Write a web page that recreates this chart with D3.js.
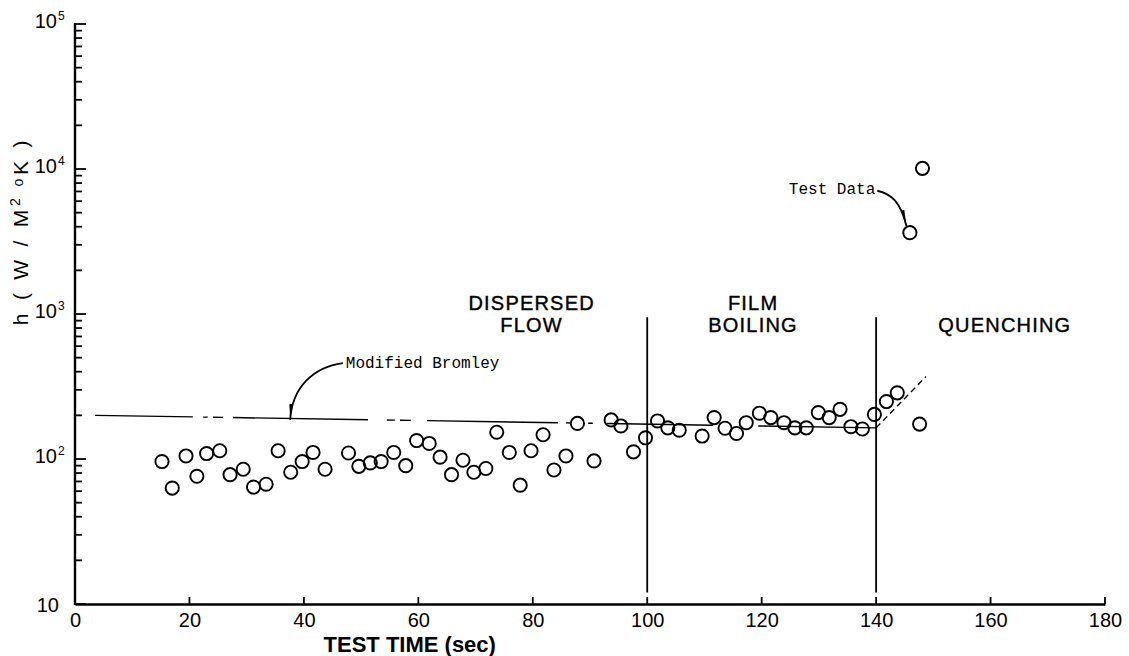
<!DOCTYPE html>
<html>
<head>
<meta charset="utf-8">
<script src="https://cdnjs.cloudflare.com/ajax/libs/d3/7.8.5/d3.min.js"></script>
<style>
	body { margin: 0; background: #fff; }
	svg { display: block; }
</style>
</head>
<body>
<div id="chart"></div>
<script>
// test data
var timeSec = [15.2, 17.0, 19.4, 21.3, 23.0, 25.3, 27.1, 29.4, 31.2, 33.4, 35.5, 37.7, 39.7, 41.6, 43.7,
	47.8, 49.6, 51.6, 53.5, 55.7, 57.8, 59.7, 61.9, 63.8, 65.8, 67.8, 69.7, 71.8, 73.7, 75.9, 77.8, 79.7,
	81.8, 83.7, 85.8, 87.8, 90.7, 93.7, 95.4, 97.6, 99.7, 101.8, 103.6, 105.6, 109.6, 111.7, 113.6, 115.6,
	117.3, 119.6, 121.6, 123.9, 125.8, 127.8, 129.9, 131.8, 133.7, 135.6, 137.6, 139.7, 141.8, 143.7,
	145.9, 147.6, 148.1];
var hValue = [96, 63, 105, 76, 109, 114, 78, 85, 64, 67, 114, 81, 96, 111, 85,
	110, 89, 94, 96, 111, 90, 134, 128, 103, 78, 98, 81, 86, 153, 111, 66, 114,
	147, 84, 105, 176, 97, 186, 169, 112, 140, 183, 164, 158, 144, 193, 163, 150,
	178, 207, 193, 178, 164, 164, 209, 193, 220, 167, 161, 203, 249, 286,
	3640, 174, 10100];

// Modified Bromley prediction: end points, and the stretches of time where the printed line shows
var bromleyEnds = [[3.5, 200], [140, 164]];
var bromleyPieces = [[3.5, 20.6], [22.4, 23.2], [24.1, 25.9], [27.6, 51.2], [54.5, 55.9], [56.8, 58.7],
	[61.5, 84.4], [85.8, 86.7], [89.7, 90.5], [93.0, 111.5], [119.4, 140]];
var quenchLine = [[140, 164], [148.7, 370]];

// regime boundaries
var regimeTimes = [100, 140];
var regimeSpan = [12, 950];
var regimeLabels = [
	{ lines: ["DISPERSED", "FLOW"], t: 79.8 },
	{ lines: ["FILM", "BOILING"], t: 118.5 },
	{ lines: ["QUENCHING"], t: 162.5 }
];

// axes
var xTicks = [0, 20, 40, 60, 80, 100, 120, 140, 160, 180];
var yDecades = [10, 100, 1000, 10000, 100000];

var w = 1129, h = 656;
var sansFont = "Liberation Sans, Arial, sans-serif";
var monoFont = "Liberation Mono, Courier New, monospace";

var xScale = d3.scaleLinear().domain([0, 180]).range([75, 1105]);
var yScale = d3.scaleLog().domain([10, 100000]).range([604, 24]);

var svg = d3.select("#chart").append("svg")
	.attr("width", w)
	.attr("height", h);

svg.append("defs").append("marker")
	.attr("id", "head")
	.attr("viewBox", "0 0 16 6")
	.attr("refX", 16).attr("refY", 3)
	.attr("markerWidth", 16).attr("markerHeight", 6)
	.attr("markerUnits", "userSpaceOnUse")
	.attr("orient", "auto")
	.append("path")
	.attr("d", "M0,1.2 L16,3 L0,4.8 Z")
	.attr("fill", "#000");

// Y axis ticks, pointing inside (drawn by hand so both lengths show)
var yTickVals = [];
yDecades.forEach(function(d, i) {
	yTickVals.push({ v: d, len: 11 });
	if (i < yDecades.length - 1) {
		for (var k = 2; k <= 9; k++) yTickVals.push({ v: d * k, len: 7 });
	}
});
var x0 = xScale(0);
svg.append("g").selectAll("line")
	.data(yTickVals)
	.enter()
	.append("line")
	.attr("x1", x0)
	.attr("x2", function(d) { return x0 + d.len; })
	.attr("y1", function(d) { return yScale(d.v); })
	.attr("y2", function(d) { return yScale(d.v); })
	.attr("stroke", "#000")
	.attr("stroke-width", 1.8);

svg.append("line")
	.attr("x1", x0).attr("x2", x0)
	.attr("y1", yScale(100000) - 1).attr("y2", yScale(10) + 1)
	.attr("stroke", "#000")
	.attr("stroke-width", 2.4);

// Y labels: 10, 10^2 ...
yDecades.forEach(function(d, i) {
	svg.append("text")
		.attr("x", i === 0 ? 59 : 57)
		.attr("y", yScale(d) + (i === 0 ? 8 : 4))
		.attr("text-anchor", "end")
		.attr("font-family", sansFont)
		.attr("font-size", 20)
		.text("10");
	if (i > 0) {
		svg.append("text")
			.attr("x", 58)
			.attr("y", yScale(d) - 4)
			.attr("font-family", sansFont)
			.attr("font-size", 12)
			.text(String(i + 1));
	}
});

// X axis
var xAxisG = svg.append("g")
	.attr("transform", "translate(0," + yScale(10) + ")")
	.call(d3.axisBottom(xScale).tickValues(xTicks).tickSize(0).tickPadding(9));
xAxisG.select(".domain").attr("stroke-width", 2.4);
xAxisG.selectAll(".tick text")
	.attr("font-family", sansFont)
	.attr("font-size", 20)
	.attr("fill", "#000");
svg.append("g").selectAll("line")
	.data(xTicks)
	.enter()
	.append("line")
	.attr("x1", function(d) { return xScale(d); })
	.attr("x2", function(d) { return xScale(d); })
	.attr("y1", yScale(10))
	.attr("y2", yScale(10) - 7)
	.attr("stroke", "#000")
	.attr("stroke-width", 1.8);

// axis titles
svg.append("text")
	.attr("x", xScale(58.5))
	.attr("y", 652)
	.attr("text-anchor", "middle")
	.attr("font-family", sansFont)
	.attr("font-weight", "bold")
	.attr("font-size", 22)
	.text("TEST TIME (sec)");

var yTitle = svg.append("text")
	.attr("transform", "translate(28,231) rotate(-90)")
	.attr("text-anchor", "middle")
	.attr("font-family", sansFont)
	.attr("font-size", 21)
	.attr("letter-spacing", 3.8);
yTitle.append("tspan").text("h ( W / M");
yTitle.append("tspan").attr("font-size", 14).attr("dy", -8).text("2");
yTitle.append("tspan").attr("font-size", 14).attr("dy", 3).text("  o");
yTitle.append("tspan").attr("dy", 5).text("K )");

// regime boundary lines
svg.selectAll(".regime")
	.data(regimeTimes)
	.enter()
	.append("line")
	.attr("class", "regime")
	.attr("x1", function(d) { return xScale(d); })
	.attr("x2", function(d) { return xScale(d); })
	.attr("y1", yScale(regimeSpan[0]))
	.attr("y2", yScale(regimeSpan[1]))
	.attr("stroke", "#000")
	.attr("stroke-width", 1.8);

// regime labels
regimeLabels.forEach(function(r) {
	var n = r.lines.length;
	r.lines.forEach(function(s, j) {
		svg.append("text")
			.attr("x", xScale(r.t))
			.attr("y", yScale(1000) + 18 - (n - 1 - j) * 22)
			.attr("text-anchor", "middle")
			.attr("font-family", sansFont)
			.attr("font-size", 20)
			.attr("letter-spacing", 1.2)
			.attr("stroke", "#000")
			.attr("stroke-width", 0.4)
			.text(s);
	});
});

// Modified Bromley line, with its printed gaps
var bx0 = xScale(bromleyEnds[0][0]);
var dash = [], last = bx0;
bromleyPieces.forEach(function(p) {
	dash.push(xScale(p[0]) - last, xScale(p[1]) - xScale(p[0]));
	last = xScale(p[1]);
});
svg.append("line")
	.attr("x1", bx0).attr("y1", yScale(bromleyEnds[0][1]))
	.attr("x2", xScale(bromleyEnds[1][0])).attr("y2", yScale(bromleyEnds[1][1]))
	.attr("stroke", "#000")
	.attr("stroke-width", 1.4)
	.attr("stroke-dasharray", dash.slice(1).concat([2000]).join(","));

svg.append("line")
	.attr("x1", xScale(quenchLine[0][0])).attr("y1", yScale(quenchLine[0][1]))
	.attr("x2", xScale(quenchLine[1][0])).attr("y2", yScale(quenchLine[1][1]))
	.attr("stroke", "#000")
	.attr("stroke-width", 1.4)
	.attr("stroke-dasharray", "6,4");

// data points
svg.selectAll(".pt")
	.data(timeSec)
	.enter()
	.append("circle")
	.attr("class", "pt")
	.attr("cx", function(d) { return xScale(d); })
	.attr("cy", function(d, i) { return yScale(hValue[i]); })
	.attr("r", 6.6)
	.attr("fill", "none")
	.attr("stroke", "#000")
	.attr("stroke-width", 1.9);

// annotations
var bs = [xScale(46.8), yScale(459)], be = [xScale(37.6), yScale(186)];
svg.append("path")
	.attr("d", "M" + bs[0] + "," + bs[1] + " C" + (bs[0] - 30) + "," + (bs[1] + 4) + " " +
		(be[0] + 2) + "," + (be[1] - 32) + " " + be[0] + "," + be[1])
	.attr("fill", "none")
	.attr("stroke", "#000")
	.attr("stroke-width", 1.8)
	.attr("marker-end", "url(#head)");
svg.append("text")
	.attr("x", bs[0] + 3)
	.attr("y", bs[1] + 5)
	.attr("font-family", monoFont)
	.attr("font-size", 16)
	.text("Modified Bromley");

var ts = [xScale(140.2), yScale(7080)], te = [xScale(145.3), yScale(4050)];
svg.append("path")
	.attr("d", "M" + ts[0] + "," + ts[1] + " C" + (ts[0] + 14) + "," + (ts[1] + 3) + " " +
		(te[0] - 6) + "," + (te[1] - 24) + " " + te[0] + "," + te[1])
	.attr("fill", "none")
	.attr("stroke", "#000")
	.attr("stroke-width", 1.8)
	.attr("marker-end", "url(#head)");
svg.append("text")
	.attr("x", ts[0] - 2)
	.attr("y", ts[1] + 3)
	.attr("text-anchor", "end")
	.attr("font-family", monoFont)
	.attr("font-size", 16)
	.text("Test Data");
</script>
</body>
</html>
